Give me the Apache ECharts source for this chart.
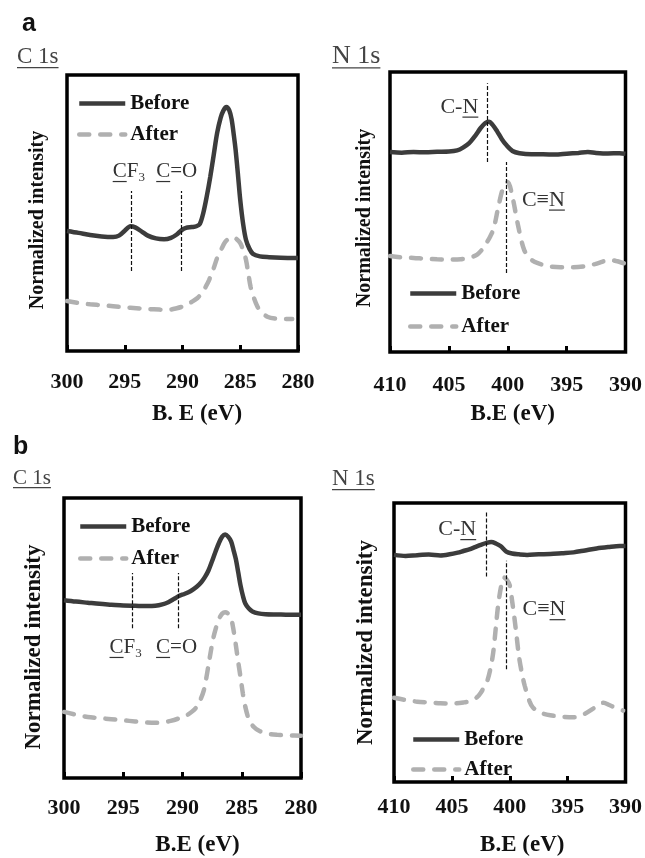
<!DOCTYPE html>
<html>
<head>
<meta charset="utf-8">
<script src="https://cdn.jsdelivr.net/npm/echarts@6/dist/echarts.min.js"></script>
<style>
  html, body { margin: 0; padding: 0; background: #fff; }
  #xps { width: 645px; height: 858px; }
</style>
</head>
<body>
<div id="xps"></div>
<script>
// binding energy (eV) / normalized intensity
var c1sBeforeA = [[300,0.435],[299,0.428],[298,0.42],[297,0.415],[296,0.413],[295.5,0.418],[295,0.436],[294.5,0.452],[294.1,0.448],[293.5,0.432],[293,0.418],[292.3,0.408],[291.6,0.405],[291,0.41],[290.5,0.422],[290.1,0.437],[289.7,0.446],[289.2,0.449],[288.8,0.452],[288.5,0.46],[288.2,0.5],[287.9,0.56],[287.6,0.63],[287.3,0.71],[287,0.79],[286.7,0.845],[286.45,0.872],[286.2,0.884],[285.95,0.872],[285.75,0.84],[285.55,0.78],[285.4,0.728],[285.2,0.64],[285,0.547],[284.75,0.46],[284.5,0.402],[284.2,0.37],[283.9,0.352],[283.3,0.343],[282.5,0.34],[281.5,0.338],[280,0.337]];
var c1sAfterA = [[300,0.181],[299,0.174],[298,0.169],[297,0.166],[296,0.162],[295,0.158],[294,0.155],[293,0.152],[292,0.15],[291.3,0.149],[290.5,0.155],[289.8,0.164],[289.2,0.178],[288.7,0.192],[288.3,0.212],[288,0.232],[287.7,0.257],[287.3,0.3],[287,0.337],[286.6,0.372],[286.3,0.395],[285.9,0.41],[285.6,0.413],[285.3,0.405],[285,0.391],[284.75,0.365],[284.5,0.33],[284.3,0.28],[284.1,0.232],[283.8,0.19],[283.5,0.16],[283.1,0.138],[282.6,0.123],[282,0.118],[281,0.116],[280.5,0.116]];
var n1sBeforeA = [[410,0.714],[409,0.712],[408,0.714],[407,0.713],[406,0.715],[405,0.716],[404.3,0.72],[403.8,0.73],[403.3,0.745],[402.8,0.77],[402.3,0.8],[401.9,0.818],[401.6,0.822],[401.3,0.812],[400.9,0.788],[400.5,0.76],[400.1,0.738],[399.6,0.718],[399,0.71],[398,0.706],[397,0.706],[396,0.705],[395,0.708],[394,0.711],[393.2,0.714],[392.5,0.711],[391.5,0.709],[390.5,0.71],[390,0.708]];
var n1sAfterA = [[410,0.343],[409,0.338],[408,0.336],[407,0.333],[406,0.331],[405,0.33],[404,0.331],[403.3,0.336],[402.6,0.348],[402.1,0.37],[401.8,0.39],[401.5,0.412],[401.2,0.44],[400.8,0.518],[400.4,0.585],[400,0.607],[399.6,0.554],[399.1,0.447],[398.6,0.364],[398,0.33],[397.5,0.318],[396.5,0.306],[395.5,0.303],[394.5,0.303],[393.5,0.306],[392.6,0.314],[392,0.322],[391.4,0.33],[390.8,0.325],[390,0.315]];
var c1sBeforeB = [[300,0.635],[299,0.63],[298,0.626],[297,0.622],[296,0.619],[295,0.616],[294,0.615],[293,0.614],[292.3,0.615],[291.7,0.62],[291.2,0.628],[290.7,0.64],[290.3,0.65],[289.8,0.658],[289.3,0.668],[288.8,0.683],[288.4,0.7],[288.1,0.718],[287.8,0.742],[287.5,0.775],[287.2,0.81],[286.9,0.842],[286.65,0.862],[286.4,0.87],[286.15,0.862],[285.9,0.845],[285.7,0.815],[285.5,0.782],[285.3,0.735],[285.1,0.687],[284.9,0.65],[284.7,0.623],[284.4,0.605],[284.1,0.595],[283.6,0.588],[283,0.585],[282,0.584],[281,0.583],[280,0.583]];
var c1sAfterB = [[300,0.236],[299,0.226],[298,0.218],[297,0.214],[296,0.21],[295,0.206],[294,0.202],[293,0.198],[292.2,0.197],[291.5,0.2],[291,0.204],[290.3,0.213],[289.6,0.225],[289.2,0.237],[288.8,0.254],[288.5,0.278],[288.2,0.313],[288,0.355],[287.8,0.405],[287.6,0.455],[287.4,0.5],[287.15,0.54],[286.9,0.57],[286.65,0.587],[286.4,0.592],[286.15,0.587],[285.9,0.57],[285.7,0.53],[285.5,0.475],[285.3,0.415],[285.1,0.359],[284.9,0.3],[284.7,0.254],[284.4,0.21],[284,0.183],[283.5,0.168],[282.8,0.158],[282,0.154],[281,0.152],[280,0.151]];
var n1sBeforeB = [[410,0.814],[409,0.81],[408,0.813],[407,0.815],[406,0.812],[405.2,0.816],[404.5,0.822],[404,0.828],[403.5,0.834],[403,0.842],[402.5,0.85],[402,0.857],[401.6,0.86],[401.2,0.855],[400.8,0.846],[400.3,0.826],[399.8,0.819],[399.2,0.816],[398.5,0.814],[397.5,0.816],[396.5,0.817],[395.5,0.82],[394.5,0.823],[393.5,0.83],[392.5,0.837],[391.5,0.842],[390.5,0.846],[390,0.846]];
var n1sAfterB = [[410,0.302],[409,0.294],[408,0.288],[407,0.285],[406,0.282],[405,0.281],[404,0.285],[403.3,0.291],[402.8,0.305],[402.5,0.32],[402.2,0.342],[401.9,0.368],[401.6,0.42],[401.4,0.473],[401.2,0.555],[401,0.635],[400.75,0.7],[400.5,0.733],[400.25,0.725],[400,0.705],[399.8,0.65],[399.6,0.589],[399.4,0.52],[399.2,0.449],[398.95,0.39],[398.7,0.344],[398.3,0.29],[398,0.267],[397.3,0.248],[396.5,0.239],[395.5,0.234],[394.5,0.232],[393.6,0.243],[392.8,0.263],[392.3,0.276],[391.9,0.284],[391.4,0.276],[390.9,0.267],[390.2,0.256]];

var c1sTicks = [280, 300];   // min, max
var n1sTicks = [390, 410];

// dashed marker lines: [eV, from, to]
var markersA1 = [[294.4,0.29,0.58],[290.1,0.29,0.58]];
var markersA2 = [[401.7,0.679,0.96],[400.1,0.282,0.679]];
var markersB1 = [[294.2,0.535,0.732],[290.4,0.535,0.732]];
var markersB2 = [[402.0,0.737,0.968],[400.3,0.404,0.793]];

var seriesNames = ['Before', 'After'];

var chart = echarts.init(document.getElementById('xps'));
var SERIF = '"Liberation Serif", "Times New Roman", serif';

var grids = [
    {left: 67, top: 75, width: 231, height: 276},
    {left: 390, top: 72, width: 236, height: 280},
    {left: 64, top: 498, width: 237, height: 284},
    {left: 394, top: 503, width: 237, height: 285}
];
grids.forEach(function (g) {
    g.show = true;
    g.borderColor = '#000';
    g.borderWidth = 3.5;
    g.backgroundColor = 'transparent';
});

function xAxisOf(idx, range, name, labelMargin, nameGap, namePad) {
    return {
        gridIndex: idx,
        type: 'value',
        inverse: true,
        min: range[0],
        max: range[1],
        interval: 5,
        axisLine: {show: false},
        axisTick: {show: true, inside: true, length: 6, lineStyle: {color: '#000', width: 3}},
        splitLine: {show: false},
        axisLabel: {margin: labelMargin, fontFamily: SERIF, fontWeight: 'bold', fontSize: 22, color: '#111'},
        name: name,
        nameLocation: 'middle',
        nameGap: nameGap,
        nameTextStyle: {fontFamily: SERIF, fontWeight: 'bold', fontSize: 23, color: '#111', padding: [0, 0, 0, namePad]}
    };
}

function yAxisOf(idx, nameGap, fontSize, pad) {
    return {
        gridIndex: idx,
        type: 'value',
        min: 0,
        max: 1,
        axisLine: {show: false},
        axisTick: {show: false},
        axisLabel: {show: false},
        splitLine: {show: false},
        name: 'Normalized intensity',
        nameLocation: 'middle',
        nameGap: nameGap,
        nameTextStyle: {fontFamily: SERIF, fontWeight: 'bold', fontSize: fontSize, color: '#111', padding: [0, pad, 0, 0]}
    };
}

function markLineOf(markers) {
    return {
        silent: true,
        symbol: 'none',
        label: {show: false},
        lineStyle: {color: '#111', width: 1.2, type: [4, 2]},
        data: markers.map(function (m) {
            return [{coord: [m[0], m[1]]}, {coord: [m[0], m[2]]}];
        })
    };
}

function beforeLine(idx, data, markers) {
    return {
        name: seriesNames[0], type: 'line', xAxisIndex: idx, yAxisIndex: idx,
        data: data, showSymbol: false, symbol: 'none', smooth: 0.3,
        lineStyle: {color: '#3c3c3c', width: 4.5},
        itemStyle: {color: '#3c3c3c'},
        markLine: markLineOf(markers)
    };
}
function afterLine(idx, data) {
    return {
        name: seriesNames[1], type: 'line', xAxisIndex: idx, yAxisIndex: idx,
        data: data, showSymbol: false, symbol: 'none', smooth: 0.3,
        lineStyle: {color: '#b0b0b0', width: 4.5, type: [10, 11], cap: 'round'},
        itemStyle: {color: '#b0b0b0'}
    };
}

function legendAt(left, top, gap) {
    return {
        data: seriesNames, orient: 'vertical', left: left, top: top, itemGap: gap,
        itemWidth: 46, itemHeight: 14, selectedMode: false,
        itemStyle: {opacity: 0},
        lineStyle: {width: 4.5},
        textStyle: {fontFamily: SERIF, fontWeight: 'bold', fontSize: 21, color: '#111'}
    };
}

let option = {
    animation: false,
    grid: grids,
    xAxis: [
        xAxisOf(0, c1sTicks, 'B. E (eV)', 20, 52, 29),
        xAxisOf(1, n1sTicks, 'B.E (eV)', 22, 51, 10),
        xAxisOf(2, c1sTicks, 'B.E (eV)', 19, 56, 30),
        xAxisOf(3, n1sTicks, 'B.E (eV)', 14, 52, 25)
    ],
    yAxis: [
        yAxisOf(0, 19, 20, 14),
        yAxisOf(1, 15, 20, 12),
        yAxisOf(2, 18, 23, 18),
        yAxisOf(3, 16, 23, 0)
    ],
    legend: [
        legendAt(72, 88, 10),
        legendAt(403, 278, 12),
        legendAt(73, 511, 11),
        legendAt(406, 724, 9)
    ],
    series: [
        beforeLine(0, c1sBeforeA, markersA1),
        afterLine(0, c1sAfterA),
        beforeLine(1, n1sBeforeA, markersA2),
        afterLine(1, n1sAfterA),
        beforeLine(2, c1sBeforeB, markersB1),
        afterLine(2, c1sAfterB),
        beforeLine(3, n1sBeforeB, markersB2),
        afterLine(3, n1sAfterB)
    ]
};
chart.setOption(option);

// text with underlined / subscript pieces
var measureCtx = document.createElement('canvas').getContext('2d');
function fancyText(parts, size, x, y, align, color) {
    var cx = 0, children = [];
    parts.forEach(function (p) {
        var fs = p.sub ? Math.round(size * 0.62) : size;
        var font = fs + 'px ' + SERIF;
        measureCtx.font = font;
        var w = measureCtx.measureText(p.t).width;
        children.push({type: 'text', style: {text: p.t, x: cx, y: p.sub ? size * 0.26 : 0, font: font, fill: color, verticalAlign: 'middle'}});
        if (p.u) {
            children.push({type: 'line', shape: {x1: cx, y1: size * 0.46, x2: cx + w, y2: size * 0.46}, style: {stroke: color, lineWidth: 1.2}});
        }
        cx += w;
    });
    var off = align === 'center' ? -cx / 2 : (align === 'right' ? -cx : 0);
    return {type: 'group', x: x + off, y: y, children: children};
}
function atData(grid, ev, val, parts, size, align) {
    var p = chart.convertToPixel({gridIndex: grid}, [ev, val]);
    return fancyText(parts, size, p[0], p[1], align, '#333');
}

var CF3 = [{t: 'C', u: true}, {t: 'F'}, {t: '3', sub: true}];
var CO = [{t: 'C', u: true}, {t: '=O'}];
var CN = [{t: 'C-'}, {t: 'N', u: true}];
var CtN = [{t: 'C\u2261'}, {t: 'N', u: true}];

var graphics = [
    {type: 'text', style: {text: 'a', x: 22, y: 24, font: 'bold 25px "Liberation Sans", Arial, sans-serif', fill: '#111', verticalAlign: 'middle'}},
    {type: 'text', style: {text: 'b', x: 13, y: 447, font: 'bold 25px "Liberation Sans", Arial, sans-serif', fill: '#111', verticalAlign: 'middle'}},
    fancyText([{t: 'C 1s', u: true}], 23, 17, 57, 'left', '#444'),
    fancyText([{t: 'N 1s', u: true}], 26, 332, 56, 'left', '#444'),
    fancyText([{t: 'C 1s', u: true}], 21, 13, 478, 'left', '#444'),
    fancyText([{t: 'N 1s', u: true}], 23, 332, 479, 'left', '#444'),
    atData(0, 294.65, 0.649, CF3, 21, 'center'),
    atData(0, 290.5, 0.649, CO, 21, 'center'),
    atData(1, 402.5, 0.875, CN, 22, 'right'),
    atData(1, 398.8, 0.543, CtN, 22, 'left'),
    atData(2, 294.8, 0.465, CF3, 21, 'center'),
    atData(2, 290.5, 0.465, CO, 21, 'center'),
    atData(3, 402.9, 0.905, CN, 22, 'right'),
    atData(3, 398.9, 0.618, CtN, 22, 'left')
];
chart.setOption({graphic: graphics});
</script>
</body>
</html>
